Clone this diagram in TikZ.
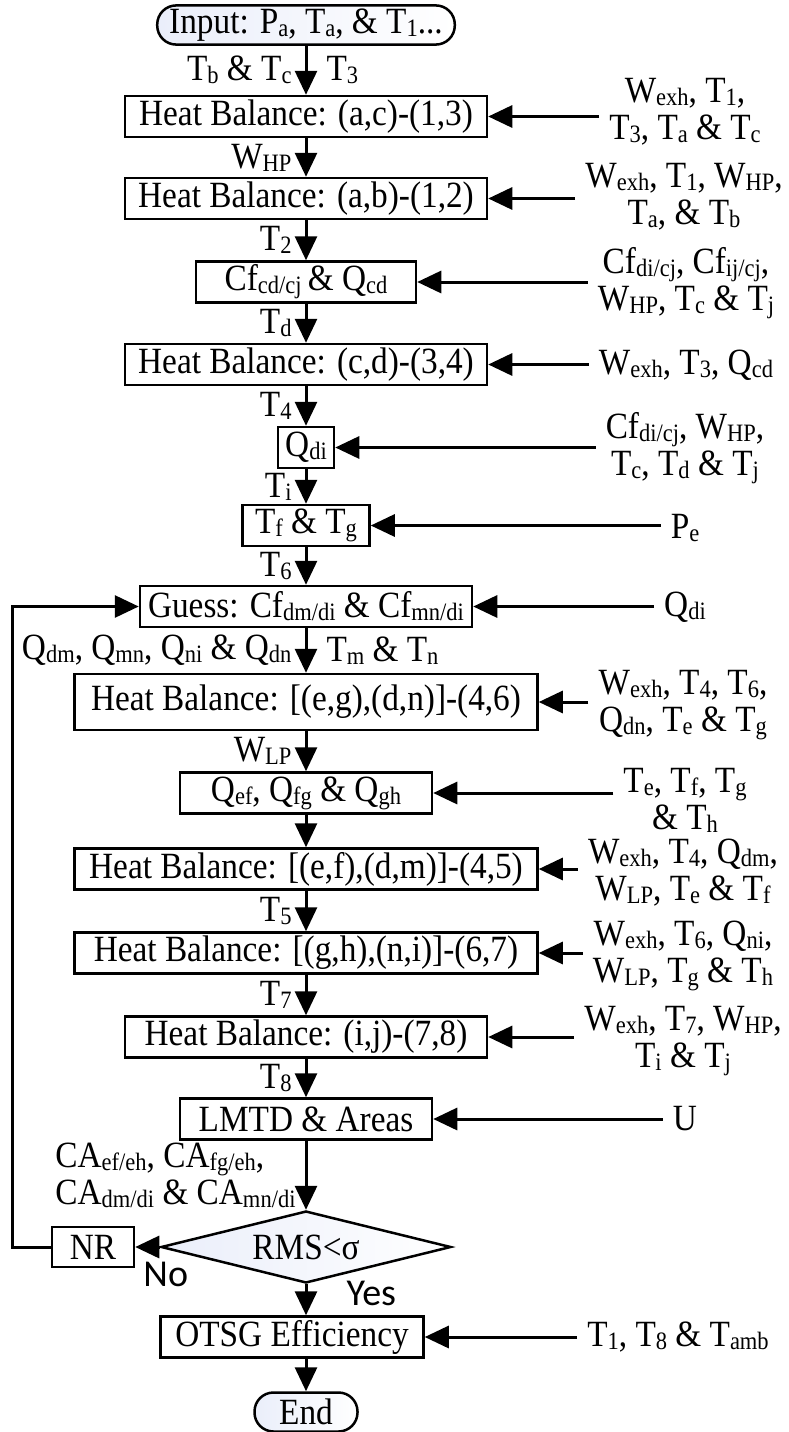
\documentclass[tikz,border=0pt]{standalone}
\usepackage{fontspec}
\setmainfont{Liberation Serif}[FakeStretch=0.9]
\newfontfamily\yesnofont{Carlito}
\usetikzlibrary{shapes.geometric,arrows.meta}
\newcommand{\lo}[1]{\raisebox{-3pt}{\fontsize{25}{25}\selectfont #1}}
\definecolor{shadeblue}{RGB}{234,238,250}
\tikzset{
  box/.style={draw, line width=2.5pt, minimum height=41pt, inner xsep=8pt, inner ysep=1pt},
  term/.style={draw, line width=2.5pt, rounded corners=19pt, minimum height=39pt, inner xsep=12pt, left color=shadeblue, right color=white},
  flow/.style={line width=3pt, -{Triangle[length=24pt,width=22pt]}},
  side/.style={align=center, inner sep=10pt, font=\fontsize{37}{37}\selectfont},
  lab/.style={inner sep=3pt},
  yesno/.style={font=\yesnofont\fontsize{38}{40}\selectfont},
}
\begin{document}
\begin{tikzpicture}[x=1pt, y=-1pt, font=\fontsize{37}{40}\selectfont]
    \useasboundingbox (0,0) rectangle (788,1432);
    % main column
    \node[term, minimum width=270pt] (input) at (306,25) {Input: P\lo{a}, T\lo{a}, \& T\lo{1}...};
    \node[box, minimum width=362pt] (hb1) at (306,116.5) {Heat Balance: (a,c)-(1,3)};
    \node[box, minimum width=362pt] (hb2) at (306,198.5) {Heat Balance: (a,b)-(1,2)};
    \node[box, minimum width=220pt] (cf) at (306,282) {Cf\lo{cd/cj}\,\& Q\lo{cd}};
    \node[box, minimum width=362pt] (hb3) at (306,364.5) {Heat Balance: (c,d)-(3,4)};
    \node[box, minimum width=56pt, inner xsep=3pt] (qdi) at (306,447.5) {Q\lo{di}};
    \node[box, minimum width=127pt] (tftg) at (306,525.5) {T\lo{f} \& T\lo{g}};
    \node[box, minimum width=332pt] (guess) at (306,606.5) {Guess: Cf\lo{dm/di} \& Cf\lo{mn/di}};
    \node[box, minimum width=463pt, minimum height=56pt] (hb4) at (306,702) {Heat Balance: [(e,g),(d,n)]-(4,6)};
    \node[box, minimum width=252pt] (qef) at (306,793) {Q\lo{ef}, Q\lo{fg} \& Q\lo{gh}};
    \node[box, minimum width=463pt] (hb5) at (306,869) {Heat Balance: [(e,f),(d,m)]-(4,5)};
    \node[box, minimum width=463pt] (hb6) at (306,953) {Heat Balance: [(g,h),(n,i)]-(6,7)};
    \node[box, minimum width=362pt] (hb7) at (306,1037) {Heat Balance: (i,j)-(7,8)};
    \node[box, minimum width=252pt] (lmtd) at (306,1119) {LMTD \& Areas};
    \node[diamond, draw, line width=2.5pt, aspect=3.9, minimum width=290pt, minimum height=72pt, inner sep=0pt,
          left color=shadeblue, right color=white] (dec) at (306,1247) {RMS<σ};
    \node[box, minimum width=82pt, minimum height=40pt] (nr) at (93,1247) {NR};
    \node[box, minimum width=263pt] (otsg) at (292,1337) {OTSG Efficiency};
    \node[term, minimum width=103pt] (end) at (306,1412) {End};

    % inputs on the right
    \node[side] (in1) at (685,112) {W\lo{exh}, T\lo{1},\\ T\lo{3}, T\lo{a} \& T\lo{c}};
    \node[side] (in2) at (684,197) {W\lo{exh}, T\lo{1}, W\lo{HP},\\ T\lo{a}, \& T\lo{b}};
    \node[side] (in3) at (686,283) {Cf\lo{di/cj}, Cf\lo{ij/cj},\\ W\lo{HP}, T\lo{c} \& T\lo{j}};
    \node[side] (in4) at (686,365) {W\lo{exh}, T\lo{3}, Q\lo{cd}};
    \node[side] (in5) at (685,448) {Cf\lo{di/cj}, W\lo{HP},\\ T\lo{c}, T\lo{d} \& T\lo{j}};
    \node[side] (in6) at (685,528) {P\lo{e}};
    \node[side] (in7) at (685,607) {Q\lo{di}};
    \node[side] (in8) at (683,705) {W\lo{exh}, T\lo{4}, T\lo{6},\\ Q\lo{dn}, T\lo{e} \& T\lo{g}};
    \node[side] (in9) at (685,800) {T\lo{e}, T\lo{f}, T\lo{g}\\ \& T\lo{h}};
    \node[side] (in10) at (683,873) {W\lo{exh}, T\lo{4}, Q\lo{dm},\\ W\lo{LP}, T\lo{e} \& T\lo{f}};
    \node[side] (in11) at (683,956) {W\lo{exh}, T\lo{6}, Q\lo{ni},\\ W\lo{LP}, T\lo{g} \& T\lo{h}};
    \node[side] (in12) at (683,1041) {W\lo{exh}, T\lo{7}, W\lo{HP},\\ T\lo{i} \& T\lo{j}};
    \node[side] (in13) at (685,1119) {U};
    \node[side] (in14) at (678,1337) {T\lo{1}, T\lo{8} \& T\lo{amb}};

    \draw[flow] (in1.west |- hb1) -- (hb1.east);
    \draw[flow] (in2.west |- hb2) -- (hb2.east);
    \draw[flow] (in3.west |- cf) -- (cf.east);
    \draw[flow] (in4.west |- hb3) -- (hb3.east);
    \draw[flow] (in5.west |- qdi) -- (qdi.east);
    \draw[flow] (in6.west |- tftg) -- (tftg.east);
    \draw[flow] (in7.west |- guess) -- (guess.east);
    \draw[flow] (in8.west |- hb4) -- (hb4.east);
    \draw[flow] (in9.west |- qef) -- (qef.east);
    \draw[flow] (in10.west |- hb5) -- (hb5.east);
    \draw[flow] (in11.west |- hb6) -- (hb6.east);
    \draw[flow] (in12.west |- hb7) -- (hb7.east);
    \draw[flow] (in13.west |- lmtd) -- (lmtd.east);
    \draw[flow] (in14.west |- otsg) -- (otsg.east);

    % down the column
    \draw[flow] (input) -- node[lab, left=10pt] {T\lo{b} \& T\lo{c}} node[lab, right=16pt] {T\lo{3}} (hb1);
    \draw[flow] (hb1) -- node[lab, left=10pt] {W\lo{HP}} (hb2);
    \draw[flow] (hb2) -- node[lab, left=10pt] {T\lo{2}} (cf);
    \draw[flow] (cf) -- node[lab, left=10pt] {T\lo{d}} (hb3);
    \draw[flow] (hb3) -- node[lab, left=10pt] {T\lo{4}} (qdi);
    \draw[flow] (qdi) -- node[lab, left=10pt] {T\lo{i}} (tftg);
    \draw[flow] (tftg) -- node[lab, left=10pt] {T\lo{6}} (guess);
    \draw[flow] (guess) -- node[lab, left=10pt] {Q\lo{dm}, Q\lo{mn}, Q\lo{ni} \& Q\lo{dn}} node[lab, right=16pt] {T\lo{m} \& T\lo{n}} (hb4);
    \draw[flow] (hb4) -- node[lab, left=10pt] {W\lo{LP}} (qef);
    \draw[flow] (qef) -- (hb5);
    \draw[flow] (hb5) -- node[lab, left=10pt] {T\lo{5}} (hb6);
    \draw[flow] (hb6) -- node[lab, left=10pt] {T\lo{7}} (hb7);
    \draw[flow] (hb7) -- node[lab, left=10pt] {T\lo{8}} (lmtd);
    \draw[flow] (lmtd) -- node[lab, left=6pt, align=left, font=\fontsize{37}{37}\selectfont] {CA\lo{ef/eh}, CA\lo{fg/eh},\\ CA\lo{dm/di} \& CA\lo{mn/di}} (dec);
    \draw[flow] (dec.south) -- node[lab, right=36pt, yshift=6pt, yesno] {Yes} (dec.south |- otsg.north);
    \draw[flow] (otsg.south -| end) -- (end);

    % loop back
    \coordinate (back) at (12,1247);
    \draw[flow] (dec.west) -- node[pos=0, below=10pt, xshift=6pt, yesno] {No} (nr.east);
    \draw[flow] (nr.west) -- (back) |- (guess.west);
\end{tikzpicture}
\end{document}
